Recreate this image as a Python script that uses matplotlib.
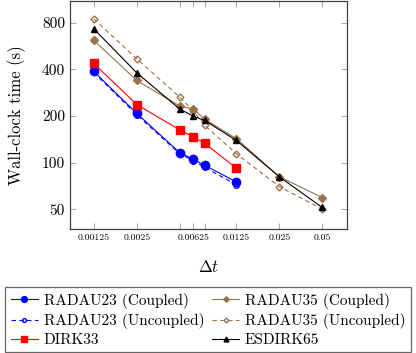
import matplotlib
matplotlib.use("Agg")
import matplotlib.pyplot as plt

# datos
dt = [0.00125, 0.0025, 0.005, 0.00625, 0.0075, 0.0125, 0.025, 0.05]

radau23_c = [388, 208, 116, 105, 96, 75]
radau23_u = [382, 204, 114, 103, 93, 72]
dirk33 = [437, 237, 163, 146, 133, 92]
radau35_c = [617, 339, 232, 222, 190, 143, 81, 59.5]
radau35_u = [847, 468, 265, 215, 174, 114, 70, 50]
esdirk65 = [731, 380, 222, 199, 187, 139, 81, 51.3]

xticks = [0.00125, 0.0025, 0.005, 0.00625, 0.0075, 0.0125, 0.025, 0.05]
xticklabels = ["0.00125", "0.0025", "", "0.00625", "", "0.0125", "0.025", "0.05"]
yticks = [50, 100, 200, 400, 800]

plt.rcParams["font.family"] = "serif"
plt.rcParams["font.serif"] = ["cmr10", "DejaVu Serif"]
plt.rcParams["mathtext.fontset"] = "cm"
plt.rcParams["axes.formatter.use_mathtext"] = True

BROWN = "#9a7148"

fig = plt.figure(figsize=(4.16, 3.53), dpi=100)
ax = fig.add_axes([0.168, 0.351, 0.665, 0.647])

ax.plot(dt[:6], radau23_c, color="blue", marker="o", ms=6, lw=0.8,
        label="RADAU23 (Coupled)")
ax.plot(dt[:6], radau23_u, color="blue", marker="o", ms=4, mfc="none",
        ls=(0, (4, 3)), lw=0.8, label="RADAU23 (Uncoupled)")
ax.plot(dt[:6], dirk33, color="red", marker="s", ms=6, lw=0.8,
        label="DIRK33")
ax.plot(dt, radau35_c, color=BROWN, marker="D", ms=4, lw=0.8,
        label="RADAU35 (Coupled)")
ax.plot(dt, radau35_u, color=BROWN, marker="D", ms=3.5, mfc="none",
        ls=(0, (4, 3)), lw=0.8, label="RADAU35 (Uncoupled)")
ax.plot(dt, esdirk65, color="black", marker="^", ms=5, lw=0.8,
        label="ESDIRK65")

ax.set_xscale("log")
ax.set_yscale("log")
ax.set_xlim(0.00085, 0.074)
ax.set_ylim(37.2, 1110)
ax.minorticks_off()
ax.set_xticks(xticks)
ax.set_xticklabels(xticklabels, fontsize=7)
ax.set_yticks(yticks)
ax.set_yticklabels([str(v) for v in yticks], fontsize=11)
ax.tick_params(direction="in", top=True, right=True, length=4,
               width=0.5, color="#808080")
for s in ax.spines.values():
    s.set_color("#404040")
    s.set_linewidth(0.9)

ax.set_xlabel(r"$\Delta t$", fontsize=12, labelpad=12)
ax.set_ylabel("Wall-clock time (s)", fontsize=12, labelpad=11)

leg = fig.legend(loc="lower center", bbox_to_anchor=(0.5, 0.0), ncol=2,
                 fontsize=11, frameon=True, fancybox=False,
                 edgecolor="#404040", handlelength=1.8, handletextpad=0.35,
                 columnspacing=0.5, borderpad=0.35, labelspacing=0.28,
                 borderaxespad=0.05, markerscale=0.7)
leg.get_frame().set_linewidth(0.9)

fig.savefig("out.png", dpi=100)
